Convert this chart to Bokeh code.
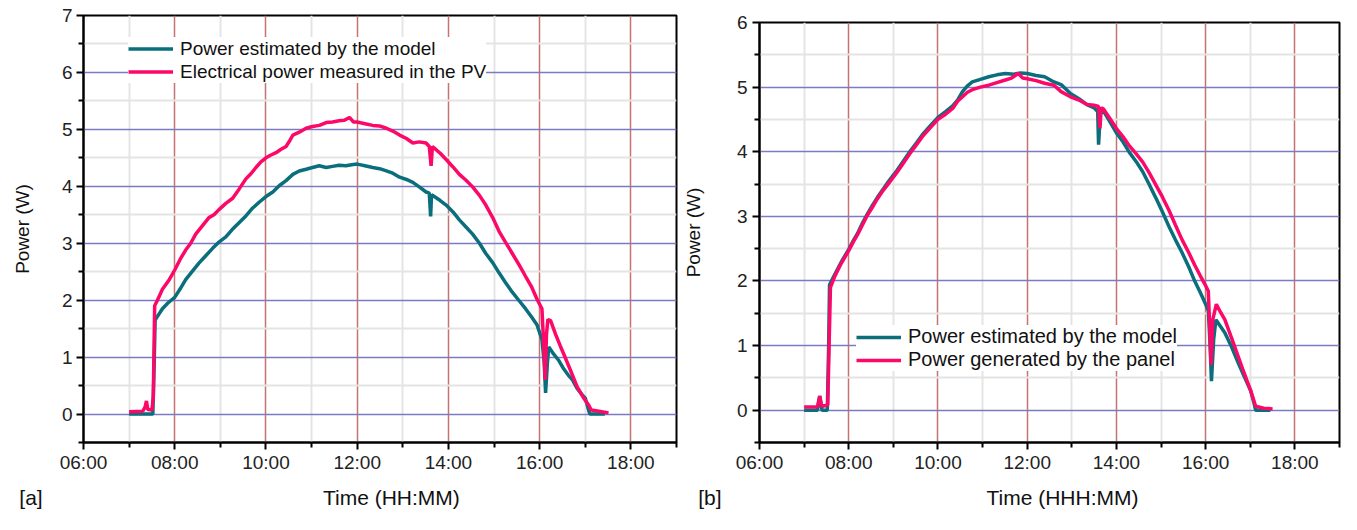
from bokeh.plotting import figure
from bokeh.models import FixedTicker, Legend, LegendItem, Range1d, LinearAxis
from bokeh.layouts import row
from bokeh.embed import file_html
from bokeh.resources import INLINE

# ---------------- data ----------------
major_hours = [6, 8, 10, 12, 14, 16, 18]
minor_hours = [7, 9, 11, 13, 15, 17, 19]
hour_labels = ["06:00", "08:00", "10:00", "12:00", "14:00", "16:00", "18:00"]

a_model_t = [7.00, 7.20, 7.30, 7.45, 7.52, 7.55, 7.57, 7.65, 7.73, 7.85, 8.00, 8.12, 8.24, 8.38, 8.53,
             8.68, 8.83, 8.97, 9.12, 9.26, 9.41, 9.56, 9.71, 9.85, 10.00, 10.15, 10.29, 10.44, 10.59,
             10.73, 10.88, 11.02, 11.17, 11.32, 11.46, 11.60, 11.75, 11.88, 12.00, 12.17, 12.34, 12.49,
             12.64, 12.78, 12.93, 13.08, 13.22, 13.36, 13.51, 13.58, 13.61, 13.63, 13.69, 13.82, 13.95,
             14.10, 14.24, 14.38, 14.53, 14.68, 14.82, 14.97, 15.11, 15.25, 15.40, 15.55, 15.69, 15.82,
             15.94, 16.05, 16.10, 16.13, 16.17, 16.20, 16.30, 16.42, 16.53, 16.63, 16.72, 16.82, 16.92,
             17.00, 17.08, 17.10, 17.43]
a_model_p = [0.00, 0.00, 0.00, 0.00, 0.00, 0.90, 1.65, 1.75, 1.85, 1.95, 2.05, 2.20, 2.36, 2.50, 2.65,
             2.78, 2.91, 3.02, 3.11, 3.24, 3.36, 3.48, 3.62, 3.72, 3.82, 3.90, 4.01, 4.10, 4.21,
             4.27, 4.30, 4.33, 4.36, 4.33, 4.35, 4.37, 4.36, 4.38, 4.39, 4.36, 4.33, 4.31,
             4.27, 4.23, 4.16, 4.12, 4.07, 3.99, 3.90, 3.88, 3.47, 3.85, 3.82, 3.75, 3.67,
             3.55, 3.41, 3.29, 3.16, 3.00, 2.82, 2.66, 2.48, 2.31, 2.14, 1.99, 1.85, 1.71,
             1.57, 1.31, 0.90, 0.37, 0.90, 1.18, 1.06, 0.94, 0.79, 0.68, 0.60, 0.45, 0.35,
             0.28, 0.05, 0.00, 0.00]

a_meas_t = [7.00, 7.30, 7.35, 7.38, 7.41, 7.50, 7.53, 7.56, 7.62, 7.73, 7.88, 8.00, 8.12, 8.24, 8.35,
            8.46, 8.60, 8.75, 8.86, 8.97, 9.12, 9.27, 9.41, 9.56, 9.67, 9.78, 9.89, 10.00, 10.11,
            10.22, 10.33, 10.44, 10.52, 10.59, 10.73, 10.88, 11.02, 11.17, 11.32, 11.46, 11.60, 11.72,
            11.83, 11.92, 12.00, 12.17, 12.34, 12.49, 12.64, 12.78, 12.93, 13.08, 13.22, 13.36, 13.51,
            13.58, 13.62, 13.65, 13.69, 13.82, 13.95, 14.10, 14.24, 14.38, 14.53, 14.68, 14.82, 14.97,
            15.11, 15.25, 15.40, 15.55, 15.69, 15.82, 15.94, 16.05, 16.09, 16.12, 16.15, 16.18, 16.24,
            16.35, 16.45, 16.53, 16.68, 16.82, 16.95, 17.08, 17.13, 17.30, 17.51]
a_meas_p = [0.04, 0.05, 0.12, 0.23, 0.08, 0.07, 0.30, 1.90, 2.00, 2.19, 2.36, 2.53, 2.72, 2.88, 3.00,
            3.16, 3.30, 3.45, 3.50, 3.59, 3.70, 3.79, 3.95, 4.13, 4.22, 4.33, 4.43, 4.50, 4.55,
            4.59, 4.65, 4.70, 4.80, 4.90, 4.95, 5.02, 5.05, 5.07, 5.12, 5.13, 5.15, 5.16,
            5.21, 5.13, 5.13, 5.10, 5.07, 5.06, 5.02, 4.97, 4.90, 4.84, 4.76, 4.78, 4.76,
            4.70, 4.36, 4.70, 4.67, 4.58, 4.47, 4.34, 4.21, 4.11, 3.99, 3.84, 3.67, 3.45,
            3.21, 3.02, 2.82, 2.62, 2.42, 2.24, 2.02, 1.85, 1.20, 0.60, 1.40, 1.66, 1.64,
            1.40, 1.20, 1.05, 0.76, 0.48, 0.30, 0.15, 0.07, 0.05, 0.02]

b_model_t = [7.00, 7.30, 7.33, 7.35, 7.38, 7.40, 7.52, 7.55, 7.57, 7.68, 7.83, 8.00, 8.10, 8.20, 8.31,
             8.42, 8.53, 8.64, 8.75, 8.86, 8.97, 9.08, 9.23, 9.38, 9.52, 9.67, 9.84, 10.00, 10.17,
             10.33, 10.44, 10.55, 10.66, 10.77, 10.95, 11.14, 11.32, 11.51, 11.70, 11.85, 12.00, 12.20,
             12.39, 12.60, 12.76, 12.97, 13.16, 13.34, 13.50, 13.58, 13.60, 13.64, 13.71, 13.85, 14.00,
             14.15, 14.29, 14.44, 14.59, 14.73, 14.88, 15.03, 15.18, 15.32, 15.47, 15.62, 15.76, 15.88,
             16.00, 16.06, 16.10, 16.13, 16.18, 16.23, 16.33, 16.43, 16.58, 16.72, 16.86, 17.01, 17.08,
             17.12, 17.45]
b_model_p = [0.00, 0.00, 0.15, 0.22, 0.10, 0.00, 0.00, 1.00, 1.94, 2.09, 2.29, 2.49, 2.62, 2.74, 2.90,
             3.04, 3.17, 3.29, 3.40, 3.51, 3.61, 3.71, 3.86, 4.01, 4.14, 4.28, 4.41, 4.53, 4.62,
             4.71, 4.80, 4.93, 5.02, 5.08, 5.12, 5.16, 5.19, 5.21, 5.20, 5.22, 5.21, 5.18,
             5.16, 5.08, 5.04, 4.90, 4.82, 4.73, 4.68, 4.62, 4.11, 4.60, 4.63, 4.47, 4.29,
             4.15, 3.99, 3.85, 3.69, 3.50, 3.29, 3.07, 2.84, 2.64, 2.44, 2.22, 1.99, 1.82,
             1.64, 1.54, 1.00, 0.45, 1.10, 1.40, 1.30, 1.20, 0.98, 0.75, 0.53, 0.30, 0.12,
             0.00, 0.00]

b_panel_t = [7.00, 7.30, 7.33, 7.35, 7.38, 7.41, 7.53, 7.56, 7.59, 7.68, 7.83, 8.00, 8.10, 8.20, 8.31,
             8.42, 8.53, 8.64, 8.75, 8.86, 8.97, 9.08, 9.23, 9.38, 9.52, 9.67, 9.84, 10.00, 10.17,
             10.33, 10.44, 10.55, 10.66, 10.77, 10.95, 11.14, 11.32, 11.51, 11.65, 11.80, 11.90, 12.00,
             12.20, 12.39, 12.60, 12.76, 12.97, 13.16, 13.34, 13.50, 13.60, 13.63, 13.66, 13.71, 13.85,
             14.00, 14.15, 14.29, 14.44, 14.59, 14.73, 14.88, 15.03, 15.18, 15.32, 15.47, 15.62, 15.76,
             15.88, 15.99, 16.06, 16.09, 16.12, 16.16, 16.24, 16.33, 16.43, 16.58, 16.72, 16.86, 17.01,
             17.08, 17.12, 17.30, 17.50]
b_panel_p = [0.05, 0.05, 0.15, 0.22, 0.10, 0.06, 0.08, 1.00, 1.90, 2.06, 2.27, 2.47, 2.60, 2.72, 2.87,
             3.02, 3.14, 3.27, 3.38, 3.48, 3.58, 3.68, 3.83, 3.98, 4.11, 4.25, 4.38, 4.50, 4.58,
             4.67, 4.78, 4.85, 4.92, 4.96, 5.00, 5.03, 5.07, 5.11, 5.14, 5.21, 5.14, 5.13,
             5.10, 5.06, 5.03, 4.93, 4.85, 4.80, 4.73, 4.72, 4.70, 4.36, 4.68, 4.66, 4.52,
             4.36, 4.23, 4.09, 3.97, 3.84, 3.68, 3.49, 3.30, 3.09, 2.87, 2.64, 2.44, 2.24,
             2.08, 1.94, 1.84, 1.30, 0.70, 1.40, 1.64, 1.52, 1.40, 1.12, 0.85, 0.58, 0.30,
             0.15, 0.06, 0.03, 0.02]

# ---------------- style ----------------
FONT = "Liberation Sans"
TEAL = "#0a6e7d"
PINK = "#fc0868"
NBSP = "\u00a0"


def make_panel(ymax, width, bl, bt, tag, n_pad, xlab, xlab_pos, ystd, ylab_std):
    p = figure(width=width, height=514, output_backend="svg", toolbar_location=None,
               x_range=Range1d(6, 19), y_range=Range1d(-0.5, ymax),
               min_border_left=bl, min_border_right=2, min_border_top=bt, min_border_bottom=72,
               frame_align=False,
               background_fill_color="white", border_fill_color="white")
    xt = FixedTicker(ticks=major_hours, minor_ticks=minor_hours)
    yt = FixedTicker(ticks=list(range(0, int(ymax) + 1)),
                     minor_ticks=[v + 0.5 for v in range(-1, int(ymax))])
    p.xaxis.ticker = xt
    p.yaxis.ticker = yt
    p.xgrid.ticker = xt
    p.ygrid.ticker = yt
    p.xaxis.major_label_overrides = {h: s for h, s in zip(major_hours, hour_labels)}

    p.xgrid.grid_line_color = "#c47272"
    p.xgrid.grid_line_width = 1.5
    p.ygrid.grid_line_color = "#7b7bc4"
    p.ygrid.grid_line_width = 1.5
    for g in (p.xgrid, p.ygrid):
        g.minor_grid_line_color = "#e4e4e4"
        g.minor_grid_line_width = 2

    for ax in (p.xaxis, p.yaxis):
        ax.axis_line_width = 2
        ax.axis_line_color = "black"
        ax.major_tick_line_width = 2
        ax.minor_tick_line_width = 2
        ax.major_tick_out = 7
        ax.major_tick_in = 0
        ax.minor_tick_out = 5
        ax.minor_tick_in = 0
        ax.major_label_text_font = FONT
        ax.major_label_text_font_size = "19px"
        ax.major_label_text_color = "#222222"
        ax.axis_label_text_font = FONT
        ax.axis_label_text_font_style = "normal"
        ax.axis_label_text_color = "#111111"
    p.xaxis.major_label_standoff = 2
    p.yaxis.axis_label = "Power (W)"
    p.yaxis.axis_label_text_font_size = "19px"
    p.yaxis.major_label_standoff = ystd
    p.yaxis.axis_label_standoff = ylab_std
    p.outline_line_color = "black"
    p.outline_line_width = 2
    p.outline_line_alpha = 1

    # second bottom row: panel tag and axis title on one line
    cap = LinearAxis(ticker=FixedTicker(ticks=[6, xlab_pos], minor_ticks=[]),
                     major_label_overrides={6: tag + NBSP * n_pad, xlab_pos: xlab},
                     axis_line_color=None, major_tick_line_color=None,
                     minor_tick_line_color=None, major_tick_out=0, major_tick_in=0,
                     major_label_standoff=10, major_label_text_font=FONT,
                     major_label_text_font_size="21px", major_label_text_color="#111111")
    p.add_layout(cap, "below")
    return p


def add_lines(p, s1, s2, lab1, lab2, leg_loc, leg_font, leg_h):
    r1 = p.line(s1[0], s1[1], line_color=TEAL, line_width=3.5)
    r2 = p.line(s2[0], s2[1], line_color=PINK, line_width=3.5)
    leg = Legend(items=[LegendItem(label=lab1, renderers=[r1]),
                        LegendItem(label=lab2, renderers=[r2])],
                 location=leg_loc, orientation="vertical",
                 background_fill_color="white", background_fill_alpha=1,
                 border_line_color=None, label_text_font=FONT,
                 label_text_font_size=leg_font, label_text_color="#111111",
                 glyph_width=45, glyph_height=leg_h, label_height=leg_h,
                 padding=8, spacing=0, margin=0, label_standoff=7)
    p.add_layout(leg, "center")


pa = make_panel(7, 678, 83, 15, "[a]", 18, "Time (HH:MM)", 12.75, 4, 26)
add_lines(pa, (a_model_t, a_model_p), (a_meas_t, a_meas_p),
          "Power estimated by the model", "Electrical power measured in the PV",
          (45, 359), "19px", 23)
pb = make_panel(6, 663, 81, 22, "[b]", 17, "Time (HHH:MM)", 12.79, 5, 30)
add_lines(pb, (b_model_t, b_model_p), (b_panel_t, b_panel_p),
          "Power estimated by the model", "Power generated by the panel",
          (97, 71), "20px", 22)

layout = row(pa, pb)
open("out.html", "w").write(file_html(layout, INLINE))
